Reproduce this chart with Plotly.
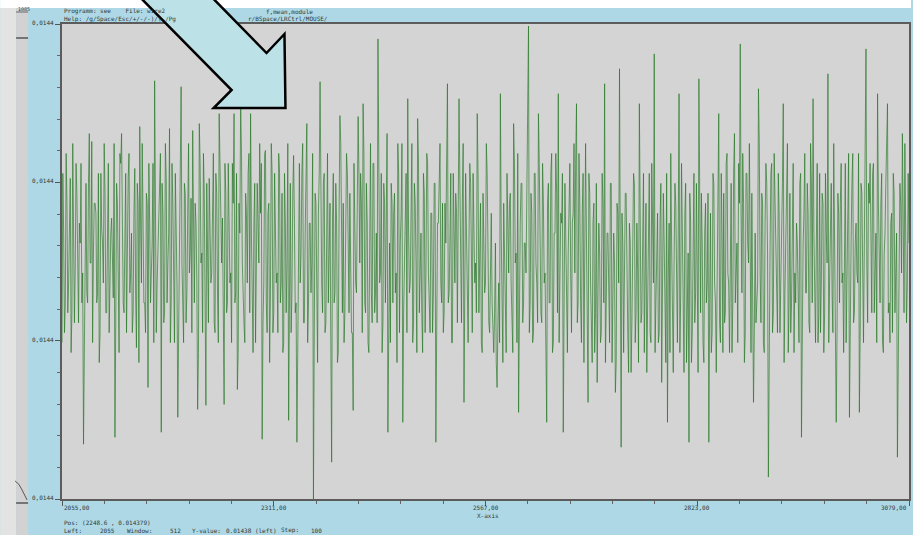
import numpy as np
import plotly.graph_objects as go

# Sampled level, stored as the deviation from 0.0144 in units of 1e-7
signal_dev = [
    130, 300, 240, 140, 170, 320, 270, 160, 190, 250, 295, 120, 160, 330, 255, 150, 205, 310, 280, 180,
    150, 250, 230, 310, 170, 200, 28, 120, 260, 290, 180, 170, 290, 340, 210, 210, 332, 130, 220, 270,
    270, 260, 170, 180, 300, 110, 140, 300, 245, 230, 190, 330, 280, 160, 160, 280, 310, 140, 200, 240,
    255, 190, 175, 330, 35, 150, 290, 270, 210, 120, 320, 310, 340, 220, 170, 160, 270, 300, 140, 250,
    295, 320, 180, 200, 240, 140, 160, 260, 305, 180, 125, 290, 270, 110, 347, 250, 190, 330, 260, 170,
    170, 140, 280, 270, 85, 310, 250, 170, 200, 230, 310, 130, 393, 300, 140, 190, 230, 260, 290, 320,
    40, 290, 260, 150, 160, 330, 295, 170, 210, 240, 345, 130, 170, 310, 270, 160, 130, 300, 240, 190,
    55, 160, 230, 300, 387, 210, 180, 130, 290, 280, 150, 180, 260, 330, 200, 220, 275, 140, 343, 260,
    170, 270, 250, 190, 63, 120, 350, 310, 210, 220, 140, 320, 280, 170, 67, 290, 240, 150, 295, 230,
    190, 200, 270, 320, 150, 140, 300, 280, 180, 130, 360, 300, 220, 210, 255, 150, 68, 310, 280, 160,
    170, 310, 260, 190, 200, 130, 310, 270, 360, 170, 180, 300, 83, 120, 270, 240, 370, 320, 210, 160,
    150, 130, 280, 260, 190, 300, 320, 160, 360, 240, 170, 120, 250, 290, 130, 200, 290, 250, 210, 330,
    260, 310, 33, 150, 190, 320, 323, 170, 140, 260, 270, 110, 180, 330, 300, 140, 160, 300, 240, 190,
    200, 140, 320, 300, 170, 190, 280, 120, 130, 300, 250, 160, 210, 330, 52, 200, 290, 140, 180, 280,
    318, 250, 160, 170, 30, 120, 270, 310, 190, 220, 300, 330, 150, 150, 240, 280, 350, 130, 170, 250,
    250, 180, 210, 320, -27, 140, 280, 270, 170, 110, 260, 300, 392, 230, 190, 160, 290, 300, 140, 150,
    230, 320, 170, 210, 270, 130, 10, 250, 300, 170, 180, 290, 250, 110, 120, 260, 358, 330, 210, 160,
    270, 130, 160, 280, 320, 300, 200, 160, 280, 220, 140, 140, 62, 310, 240, 190, 180, 260, 357, 300,
    210, 300, 270, 140, 370, 320, 170, 160, 290, 250, 130, 120, 250, 330, 180, 150, 310, 310, 160, 180,
    240, 150, 435, 310, 190, 200, 300, 120, 150, 290, 270, 170, 320, 340, 40, 210, 230, 130, 290, 270,
    170, 260, 280, 180, 200, 110, 330, 300, 140, 230, 260, 330, 50, 160, 220, 280, 300, 140, 375, 240,
    180, 190, 270, 330, 130, 150, 290, 270, 210, 120, 355, 310, 160, 220, 240, 160, 120, 300, 280, 140,
    200, 320, 310, 200, 170, 140, 260, 260, 140, 180, 290, 290, 30, 110, 250, 250, 320, 330, 190, 170,
    270, 140, 160, 270, 230, 310, 390, 170, 180, 230, 300, 130, 130, 300, 240, 190, 280, 260, 150, 320,
    375, 290, 190, 150, 270, 330, 70, 170, 300, 240, 170, 130, 230, 310, 290, 160, 140, 300, 260, 190,
    210, 160, 360, 300, 160, 210, 270, 130, 120, 280, 240, 180, 190, 330, 300, 220, 150, 140, 220, 260,
    170, 140, 120, 160, 230, 110, 85, 150, 190, 130, 380, 240, 140, 110, 270, 200, 180, 120, 300, 230,
    200, 270, 280, 190, 160, 120, 350, 310, 210, 220, 130, 320, 60, 170, 250, 290, 290, 150, 170, 230,
    230, 200, 280, 320, 448, 140, 170, 280, 260, 130, 140, 300, 300, 210, 190, 150, 360, 310, 210, 160,
    150, 310, 270, 190, 200, 130, 50, 270, 290, 170, 170, 300, 320, 120, 130, 240, 240, 320, 280, 160,
    380, 130, 180, 260, 250, 300, 40, 160, 290, 240, 160, 120, 220, 290, 310, 200, 140, 250, 260, 330,
    200, 310, 370, 150, 170, 320, 270, 170, 130, 260, 300, 110, 190, 330, 240, 140, 70, 300, 280, 190,
    160, 110, 250, 270, 120, 160, 290, 90, 180, 250, 220, 130, 140, 300, 270, 170, 390, 110, 170, 240,
    240, 150, 130, 290, 290, 110, 170, 240, 210, 80, 110, 270, 260, 190, 405, 130, 25, 260, 230, 120,
    180, 280, 280, 170, 140, 100, 250, 230, 100, 150, 220, 300, 290, 130, 160, 250, 200, 110, 370, 200,
    150, 160, 240, 300, 120, 180, 270, 100, 180, 270, 300, 140, 130, 310, 210, 190, 420, 120, 170, 250,
    260, 130, 140, 250, 290, 90, 190, 280, 230, 160, 110, 300, 50, 200, 250, 120, 320, 230, 160, 100,
    210, 290, 270, 150, 130, 240, 380, 120, 180, 310, 240, 170, 100, 260, 290, 110, 170, 220, 30, 280,
    250, 110, 140, 260, 300, 150, 180, 290, 220, 100, 395, 210, 160, 280, 230, 130, 110, 240, 270, 170,
    190, 280, 30, 170, 260, 120, 140, 300, 290, 190, 170, 100, 220, 270, 360, 150, 130, 300, 240, 120,
    280, 150, 160, 310, 320, 200, 190, 120, 250, 290, 120, 170, 300, 340, 170, 210, 230, 130, 310, 270,
    430, 260, 180, 320, 270, 110, 140, 300, 300, 230, 210, 330, 160, 120, 280, 200, 70, 140, 240, 150,
    170, 190, 385, 330, 200, 150, 280, 270, 130, 120, 250, 310, 290, 220, -5, 160, 220, 300, 310, 140,
    160, 320, 270, 200, 190, 140, 300, 260, 140, 180, 230, 290, 370, 110, 180, 250, 260, 330, 120, 170,
    280, 140, 170, 270, 310, 120, 200, 170, 250, 230, 150, 130, 290, 300, 35, 190, 230, 260, 320, 180,
    180, 290, 260, 150, 140, 330, 290, 170, 375, 240, 170, 130, 230, 310, 130, 160, 300, 140, 190, 280,
    270, 120, 160, 300, 240, 210, 400, 130, 190, 280, 290, 180, 140, 330, 220, 150, 50, 140, 280, 260,
    170, 270, 310, 190, 200, 120, 260, 310, 130, 220, 280, 320, 55, 170, 230, 290, 320, 150, 160, 230,
    250, 200, 190, 320, 60, 140, 290, 280, 170, 130, 230, 300, 425, 210, 150, 290, 270, 310, 200, 160,
    300, 310, 160, 190, 240, 130, 380, 270, 180, 170, 270, 300, 130, 120, 220, 240, 290, 320, 370, 160,
    170, 130, 250, 260, 140, 300, 280, 160, 190, 240, 15, 120, 230, 290, 270, 200, 340, 250, 160, 330,
    250, 150, 190, 300, 230,
]
base_level = 0.0144
dev_unit = 1e-7
x_start = 2055
x_step = 1

x_tick_vals = [2055, 2311, 2567, 2823, 3079]
x_tick_text = ["2055,00", "2311,00", "2567,00", "2823,00", "3079,00"]
y_tick_dev = [-27, 132, 291, 450]
y_tick_text = ["0,0144", "0,0144", "0,0144", "0,0144"]

x = x_start + x_step * np.arange(len(signal_dev))
y = base_level + np.array(signal_dev) * dev_unit
y_ticks = [base_level + d * dev_unit for d in y_tick_dev]

W, H = 913, 535
L, R, T, B = 62, 911, 24, 499
MONO = "DejaVu Sans Mono"
TXT = "#2f3a3a"
FS = 6


def px(v):
    return (v - L) / (R - L)


def py(v):
    return (B - v) / (B - T)


fig = go.Figure()
fig.add_trace(go.Scatter(
    x=x, y=y, mode="lines",
    line=dict(color="rgba(36,118,36,0.66)", width=1),
    hoverinfo="skip", showlegend=False,
))

minor_y = []
for a, b in zip(y_ticks[:-1], y_ticks[1:]):
    minor_y += [a + (b - a) * k / 5 for k in range(1, 5)]

fig.update_layout(
    width=W, height=H,
    margin=dict(l=L, r=W - R, t=T, b=H - B, pad=0),
    paper_bgcolor="#aed8e6",
    plot_bgcolor="#d4d4d4",
    showlegend=False,
    xaxis=dict(
        range=[x_tick_vals[0], x_tick_vals[-1]],
        tickmode="array", tickvals=x_tick_vals, showticklabels=False,
        ticks="outside", ticklen=5, tickwidth=1, tickcolor="#555",
        minor=dict(tickmode="linear", tick0=2055, dtick=51.2,
                   ticks="outside", ticklen=3, tickcolor="#666"),
        showline=True, mirror=True, linecolor="#5c5c5c", linewidth=1.5,
        showgrid=False, zeroline=False,
    ),
    yaxis=dict(
        range=[y_ticks[0], y_ticks[-1]],
        tickmode="array", tickvals=y_ticks, showticklabels=False,
        ticks="outside", ticklen=5, tickwidth=1, tickcolor="#555",
        minor=dict(tickmode="array", tickvals=minor_y,
                   ticks="outside", ticklen=3, tickcolor="#666"),
        showline=True, mirror=True, linecolor="#5c5c5c", linewidth=1.5,
        showgrid=False, zeroline=False,
    ),
)

annotations = []
# x tick labels: ends kept inside the axis span
for i, (v, t) in enumerate(zip(x_tick_vals, x_tick_text)):
    anchor = "left" if i == 0 else ("right" if i == len(x_tick_vals) - 1 else "center")
    annotations.append(dict(x=v, y=0, xref="x", yref="paper", text=t, showarrow=False,
                            xanchor=anchor, yanchor="top", yshift=-3,
                            font=dict(family=MONO, size=FS, color=TXT)))
for v, t in zip(y_ticks, y_tick_text):
    annotations.append(dict(x=0, y=v, xref="paper", yref="y", text=t, showarrow=False,
                            xanchor="right", yanchor="bottom", xshift=-6, yshift=-4,
                            font=dict(family=MONO, size=FS, color=TXT)))


def label(text, xp, yp, size=FS, color=TXT):
    annotations.append(dict(x=px(xp), y=py(yp), xref="paper", yref="paper", text=text,
                            showarrow=False, xanchor="left", yanchor="middle",
                            font=dict(family=MONO, size=size, color=color)))


label("X-axis", 476, 515)
label("Programm: see    File: wire2", 62, 11)
label("f,mean,module", 264, 11)
label("Help: /g/Space/Esc/+/-/-)/(-/Pg", 62, 19)
label("r/BSpace/LRCtrl/MOUSE/", 246, 19)
label("Pos: (2248.6 , 0.014379)", 62, 522)
for t, xp in [("Left:", 62), ("2055", 98), ("Window:", 125), ("512", 168),
              ("Y-value:", 190), ("0.01438 (left)", 224), ("Step:", 280), ("100", 310)]:
    label(t, xp, 530)
label("1085", 16, 9, size=5)

fig.update_layout(annotations=annotations)

shapes = []


def rect(x0, y0, x1, y1, fill):
    shapes.append(dict(type="rect", xref="paper", yref="paper", x0=px(x0), x1=px(x1),
                       y0=py(y1), y1=py(y0), fillcolor=fill, line=dict(width=0),
                       layer="below"))


def hline(x0, x1, yy, color="#555", w=1):
    shapes.append(dict(type="line", xref="paper", yref="paper", x0=px(x0), x1=px(x1),
                       y0=py(yy), y1=py(yy), line=dict(color=color, width=w)))


# window chrome: white top strip and grey side panel
rect(0, 0, W, 8, "#ffffff")
rect(0, 8, 16, H, "#e3e3e3")
rect(16, 8, 28, H, "#d2d2d2")
hline(16, 28, 12, "#666", 1)
hline(16, 28, 38, "#555", 1.5)
hline(16, 28, 503, "#555", 1.5)
shapes.append(dict(type="path", xref="paper", yref="paper",
                   path=f"M {px(15)},{py(481)} Q {px(19)},{py(483)} {px(22)},{py(490)} L {px(27)},{py(500)}",
                   line=dict(color="#555", width=1)))

# pointer arrow drawn over the chart
pts = [(140, -3), (232, 90), (214, 108), (286, 108), (285, 34), (267, 53), (212, -3)]
path = "M " + " L ".join(f"{px(a)},{py(b)}" for a, b in pts) + " Z"
shapes.append(dict(type="path", xref="paper", yref="paper", path=path,
                   fillcolor="#bce2e7", line=dict(color="#000000", width=2.5),
                   layer="above"))

fig.update_layout(shapes=shapes)
fig.write_html("out.html")
